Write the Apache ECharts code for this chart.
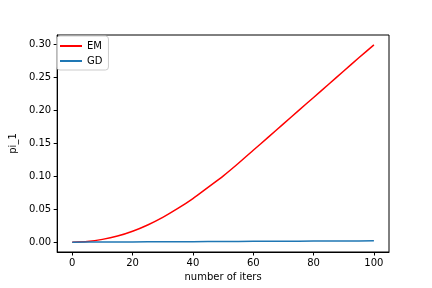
<!DOCTYPE html>
<html>
<head>
<meta charset="utf-8">
<script src="https://cdn.jsdelivr.net/npm/echarts@6/dist/echarts.min.js"></script>
<style>
html,body{margin:0;padding:0;background:#fff;}
#c{width:432px;height:288px;}
</style>
</head>
<body>
<div id="c"></div>
<script>
const iters = [0,5,10,15,20,25,30,35,40,45,50,55,60,65,70,75,80,85,90,95,100];
const emValues = [0,0.0011,0.0042,0.0092,0.0165,0.026,0.0375,0.051,0.066,0.083,0.100,0.119,0.139,0.159,0.179,0.199,0.219,0.239,0.259,0.279,0.2986];
const gdValues = [0,0.0001,0.0002,0.0003,0.0004,0.0005,0.0006,0.0007,0.0008,0.0009,0.0010,0.0011,0.0012,0.0013,0.0014,0.0015,0.0016,0.0017,0.0018,0.0019,0.0020];
const xTicks = [0,20,40,60,80,100];
const yTicks = [0,0.05,0.10,0.15,0.20,0.25,0.30];
const seriesNames = ['EM','GD'];
const xName = 'number of iters';
const yName = 'pi_1';

const font = 'DejaVu Sans';
const chart = echarts.init(document.getElementById('c'), null, {renderer:'canvas'});
const pairs = (vals) => iters.map((x,i)=>[x, vals[i]]);
chart.setOption({
  animation:false,
  backgroundColor:'#fff',
  textStyle:{fontFamily:font},
  grid:{left:54,right:43,top:35,bottom:36,show:true,borderColor:'#000',borderWidth:1,backgroundColor:'transparent'},
  legend:{
    orient:'vertical', left:57, top:36,
    padding:[4,6,3,3], itemGap:3, itemWidth:22, itemHeight:2,
    borderColor:'#cccccc', borderWidth:1, borderRadius:3, backgroundColor:'rgba(255,255,255,0.8)',
    textStyle:{fontFamily:font,fontSize:10,color:'#000',lineHeight:12},
    data:seriesNames.map(n=>({name:n,icon:'rect'}))
  },
  xAxis:{
    type:'value', min:-5, max:105,
    name:xName, nameLocation:'middle', nameGap:20,
    nameTextStyle:{fontFamily:font,fontSize:10,color:'#000'},
    axisLine:{show:true,onZero:false,lineStyle:{color:'#000',width:1}},
    axisTick:{show:true,length:3.5,lineStyle:{color:'#000'},customValues:xTicks},
    axisLabel:{fontFamily:font,fontSize:10,color:'#000',margin:6,customValues:xTicks,formatter:v=>String(v)},
    splitLine:{show:false}
  },
  yAxis:{
    type:'value', min:-0.0149, max:0.3135,
    name:yName, nameLocation:'middle', nameGap:33, nameRotate:90,
    nameTextStyle:{fontFamily:font,fontSize:10,color:'#000'},
    axisLine:{show:true,onZero:false,lineStyle:{color:'#000',width:1}},
    axisTick:{show:true,length:3.5,lineStyle:{color:'#000'},customValues:yTicks},
    axisLabel:{fontFamily:font,fontSize:10,color:'#000',margin:6,customValues:yTicks,formatter:v=>v.toFixed(2)},
    splitLine:{show:false}
  },
  series:[
    {name:seriesNames[0],type:'line',data:pairs(emValues),showSymbol:false,smooth:0.2,
     lineStyle:{color:'#ff0000',width:1.5},itemStyle:{color:'#ff0000'}},
    {name:seriesNames[1],type:'line',data:pairs(gdValues),showSymbol:false,
     lineStyle:{color:'#1f77b4',width:1.5},itemStyle:{color:'#1f77b4'}}
  ]
});
</script>
</body>
</html>
